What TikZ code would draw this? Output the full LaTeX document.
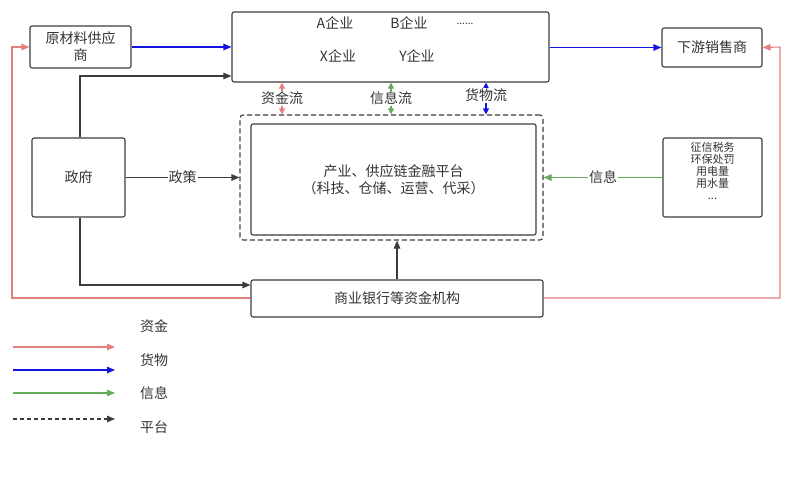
\documentclass[tikz,border=0pt]{standalone}
\usepackage{fontspec}
\setmainfont{Noto Sans CJK SC}
\usetikzlibrary{arrows.meta}
\definecolor{cred}{RGB}{226,128,128}
\definecolor{cblue}{RGB}{20,20,225}
\definecolor{cgreen}{RGB}{100,172,90}
\definecolor{cline}{RGB}{60,60,60}
\definecolor{ctext}{RGB}{51,51,51}
\begin{document}
\begin{tikzpicture}[x=1pt,y=-1pt,
  box/.style={draw=cline, line width=1.1pt, rounded corners=2pt, inner sep=0pt, text=ctext, align=center, font=\fontsize{14}{17}\selectfont},
  txt/.style={inner sep=0pt, text=ctext, align=center, font=\fontsize{14}{17}\selectfont},
  lbl/.style={fill=white, inner sep=1pt, text=ctext, font=\fontsize{14}{17}\selectfont},
  tip/.style={-{Triangle[length=8pt,width=6.5pt]}},
  dtip/.style={{Triangle[length=6pt,width=6pt]}-{Triangle[length=6pt,width=6pt]}},
  wire/.style={line width=1.1pt},
]
\useasboundingbox (0,0) rectangle (796,496);
% main boxes
\node[box, minimum width=101pt, minimum height=42pt] (raw) at (80.5,47) {原材料供应\\商};
\node[box, minimum width=317pt, minimum height=70pt] (ent) at (390.5,47) {};
\node[txt] (ta) at (335,23) {A企业};
\node[txt] (tb) at (409,23) {B企业};
\node[txt, font=\fontsize{10}{12}\selectfont] (tdots) at (465,24) {......};
\node[txt] (tx) at (338,56) {X企业};
\node[txt] (ty) at (417,56) {Y企业};
\node[box, minimum width=100pt, minimum height=39pt] (down) at (712,47.5) {下游销售商};
\node[box, minimum width=93pt, minimum height=79pt] (gov) at (78.5,177.5) {政府};
\node[draw=cline, line width=1.1pt, dashed, dash pattern=on 5pt off 3pt, rounded corners=3pt, minimum width=303pt, minimum height=125pt, inner sep=0pt] (plat) at (391.5,177.5) {};
\node[box, minimum width=285pt, minimum height=111pt] (core) at (393.5,179.5) {产业、供应链金融平台\\（科技、仓储、运营、代采）};
\node[box, minimum width=99pt, minimum height=79pt] (info) at (712.5,177.5) {};
\node[txt, font=\fontsize{11}{12}\selectfont] (infotext) at (712.5,171) {征信税务\\环保处罚\\用电量\\用水量\\...};
\node[box, minimum width=292pt, minimum height=37pt] (bank) at (397,298.5) {商业银行等资金机构};

% blue flows
\draw[wire, cblue, tip] (raw.east) -- (ent.west |- raw.east);
\draw[wire, cblue, tip] (ent.east |- down.west) -- (down.west);

% red money lines
\coordinate (rl1) at (12,298);
\coordinate (rl2) at (12,47);
\coordinate (rr1) at (780,298);
\coordinate (rr2) at (780,47);
\draw[wire, cred, tip] (bank.west |- rl1) -- (rl1) -- (rl2) -- (raw.west);
\draw[wire, cred, tip] (bank.east |- rr1) -- (rr1) -- (rr2) -- (down.east);

% government lines
\coordinate (g1) at (80,76);
\coordinate (g2) at (80,285);
\draw[wire, cline, tip] (gov.north -| g1) -- (g1) -- (ent.west |- g1);
\draw[wire, cline, tip] (gov.south -| g2) -- (g2) -- (bank.west |- g2);
\draw[wire, cline, tip] (gov.east) -- node[lbl] (pol) {政策} (plat.west |- gov.east);

% info line
\draw[wire, cgreen, tip] (info.west) -- node[lbl] (inf) {信息} (plat.east |- info.west);

% bank to platform
\draw[wire, cline, tip] (bank.north) -- (plat.south -| bank.north);

% vertical flows
\coordinate (f1) at (282,0);
\coordinate (f2) at (391,0);
\coordinate (f3) at (486,0);
\draw[wire, cred, dtip] (ent.south -| f1) -- node[lbl] (l1) {资金流} (plat.north -| f1);
\draw[wire, cgreen, dtip] (ent.south -| f2) -- node[lbl] (l2) {信息流} (plat.north -| f2);
\draw[wire, cblue, dtip] (ent.south -| f3) -- node[lbl, yshift=3pt] (l3) {货物流} (plat.north -| f3);

% legend
\coordinate (a1) at (13,347); \coordinate (b1) at (115,347);
\coordinate (a2) at (13,370); \coordinate (b2) at (115,370);
\coordinate (a3) at (13,393); \coordinate (b3) at (115,393);
\coordinate (a4) at (13,419); \coordinate (b4) at (115,419);
\draw[wire, cred, tip] (a1) -- (b1);
\draw[wire, cblue, tip] (a2) -- (b2);
\draw[wire, cgreen, tip] (a3) -- (b3);
\draw[wire, cline, dashed, dash pattern=on 4pt off 3pt, tip] (a4) -- (b4);
\node[txt, anchor=west] (k1) at (140,326) {资金};
\node[txt, anchor=west] (k2) at (140,360) {货物};
\node[txt, anchor=west] (k3) at (140,393) {信息};
\node[txt, anchor=west] (k4) at (140,427) {平台};
\end{tikzpicture}
\end{document}
